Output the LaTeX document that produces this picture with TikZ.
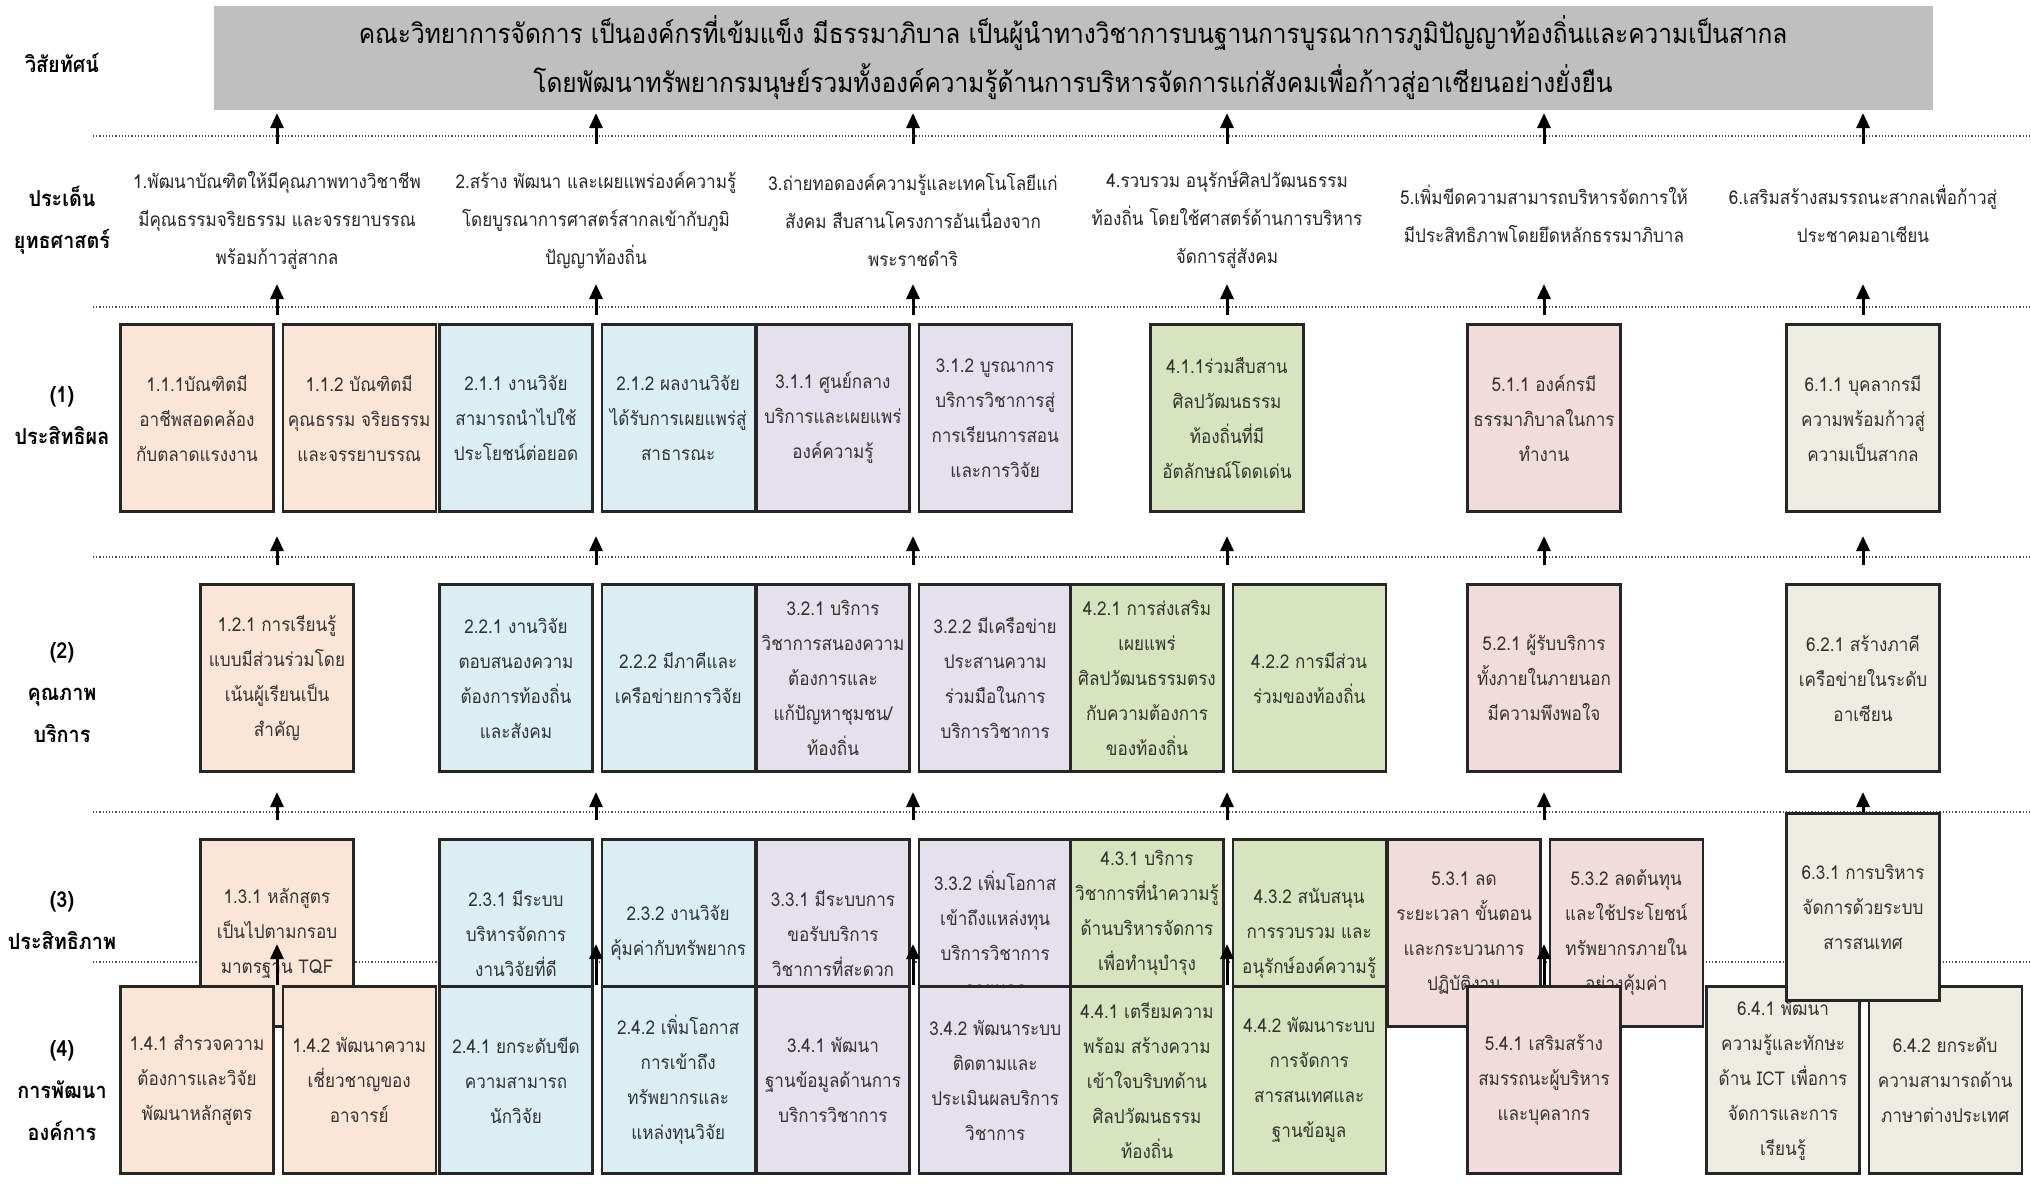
\documentclass[tikz,border=0pt]{standalone}
\usepackage{fontspec}
\newfontfamily\thaifont[Script=Thai, FakeStretch=0.9]{Loma}
\usetikzlibrary{positioning, arrows.meta}

\definecolor{vgray}{HTML}{BFBFBF}
\definecolor{grad}{HTML}{FBE5D6}
\definecolor{research}{HTML}{DAEEF3}
\definecolor{service}{HTML}{E5E0EC}
\definecolor{culture}{HTML}{D7E4BD}
\definecolor{manage}{HTML}{F2DCDB}
\definecolor{asean}{HTML}{EEECE1}

\begin{document}
\begin{tikzpicture}[x=0.5pt, y=0.5pt, node distance=3.5pt, font=\thaifont]
		\tikzstyle{box} = [draw=black!85, line width=1.1pt, minimum width=76.5pt, minimum height=93.5pt, inner sep=1pt, align=center, text=black!80, font=\thaifont\fontsize{9.5}{17.5}\selectfont]
		\tikzstyle{head} = [align=center, font=\thaifont\bfseries\fontsize{11}{21}\selectfont]
		\tikzstyle{issue} = [align=center, text=black!85, font=\thaifont\fontsize{9.5}{19}\selectfont]
		\tikzstyle{sep} = [densely dotted, line width=0.6pt, black!70]
		\tikzstyle{arr} = [-{Triangle[length=7.5pt, width=6.5pt]}, line width=1.5pt]

		\useasboundingbox (0,0) rectangle (2031,-1184);

		\coordinate (center1) at (277,0);
		\coordinate (center2) at (596,0);
		\coordinate (center3) at (913,0);
		\coordinate (center4) at (1227,0);
		\coordinate (center5) at (1544,0);
		\coordinate (center6) at (1863,0);
		\coordinate (edge) at (2031,0);

		\coordinate (line1) at (93,-136);
		\coordinate (line2) at (93,-307);
		\coordinate (line3) at (93,-557);
		\coordinate (line4) at (93,-812);
		\coordinate (line5) at (93,-962);

		\coordinate (base1) at (0,-144);
		\coordinate (tip1) at (0,-113);
		\coordinate (base2) at (0,-315);
		\coordinate (tip2) at (0,-284);
		\coordinate (base3) at (0,-565);
		\coordinate (tip3) at (0,-536);
		\coordinate (base4) at (0,-820);
		\coordinate (tip4) at (0,-792);
		\coordinate (base5) at (0,-985);
		\coordinate (tip5) at (0,-944);

		\coordinate (issue) at (0,-220);
		\coordinate (row1) at (0,-418);
		\coordinate (row2) at (0,-678);
		\coordinate (row3) at (0,-933);
		\coordinate (row4) at (0,-1080);

		\node[fill=vgray, minimum width=859.5pt, minimum height=52pt, align=center, font=\thaifont\fontsize{13.6}{24.5}\selectfont] (vision) at (1073,-58)
			{คณะวิทยาการจัดการ เป็นองค์กรที่เข้มแข็ง มีธรรมาภิบาล เป็นผู้นำทางวิชาการบนฐานการบูรณาการภูมิปัญญาท้องถิ่นและความเป็นสากล\\โดยพัฒนาทรัพยากรมนุษย์รวมทั้งองค์ความรู้ด้านการบริหารจัดการแก่สังคมเพื่อก้าวสู่อาเซียนอย่างยั่งยืน};

		\node[head] (lvision) at (62,-63) {วิสัยทัศน์};
		\node[head] (lissue) at (62,-220) {ประเด็น\\ยุทธศาสตร์};
		\node[head] (lrow1) at (62,-416) {(1)\\ประสิทธิผล};
		\node[head] (lrow2) at (62,-693) {(2)\\คุณภาพ\\บริการ};
		\node[head] (lrow3) at (62,-921) {(3)\\ประสิทธิภาพ};
		\node[head] (lrow4) at (62,-1091) {(4)\\การพัฒนา\\องค์การ};

		\node[issue] (s1) at (center1 |- issue) {1.พัฒนาบัณฑิตให้มีคุณภาพทางวิชาชีพ\\มีคุณธรรมจริยธรรม และจรรยาบรรณ\\พร้อมก้าวสู่สากล};
		\node[issue] (s2) at (center2 |- issue) {2.สร้าง พัฒนา และเผยแพร่องค์ความรู้\\โดยบูรณาการศาสตร์สากลเข้ากับภูมิ\\ปัญญาท้องถิ่น};
		\node[issue] (s3) at (center3 |- issue) {3.ถ่ายทอดองค์ความรู้และเทคโนโลยีแก่\\สังคม สืบสานโครงการอันเนื่องจาก\\พระราชดำริ};
		\node[issue] (s4) at (center4 |- issue) {4.รวบรวม อนุรักษ์ศิลปวัฒนธรรม\\ท้องถิ่น โดยใช้ศาสตร์ด้านการบริหาร\\จัดการสู่สังคม};
		\node[issue, yshift=3pt] (s5) at (center5 |- issue) {5.เพิ่มขีดความสามารถบริหารจัดการให้\\มีประสิทธิภาพโดยยึดหลักธรรมาภิบาล};
		\node[issue, yshift=3pt] (s6) at (center6 |- issue) {6.เสริมสร้างสมรรถนะสากลเพื่อก้าวสู่\\ประชาคมอาเซียน};

		\draw[sep] (line1) -- (line1 -| edge);
		\draw[sep] (line2) -- (line2 -| edge);
		\draw[sep] (line3) -- (line3 -| edge);
		\draw[sep] (line4) -- (line4 -| edge);
		\draw[sep] (line5) -- (line5 -| edge);

		\draw[arr] (center1 |- base1) -- (center1 |- tip1);
		\draw[arr] (center2 |- base1) -- (center2 |- tip1);
		\draw[arr] (center3 |- base1) -- (center3 |- tip1);
		\draw[arr] (center4 |- base1) -- (center4 |- tip1);
		\draw[arr] (center5 |- base1) -- (center5 |- tip1);
		\draw[arr] (center6 |- base1) -- (center6 |- tip1);
		\draw[arr] (center1 |- base2) -- (center1 |- tip2);
		\draw[arr] (center2 |- base2) -- (center2 |- tip2);
		\draw[arr] (center3 |- base2) -- (center3 |- tip2);
		\draw[arr] (center4 |- base2) -- (center4 |- tip2);
		\draw[arr] (center5 |- base2) -- (center5 |- tip2);
		\draw[arr] (center6 |- base2) -- (center6 |- tip2);
		\draw[arr] (center1 |- base3) -- (center1 |- tip3);
		\draw[arr] (center2 |- base3) -- (center2 |- tip3);
		\draw[arr] (center3 |- base3) -- (center3 |- tip3);
		\draw[arr] (center4 |- base3) -- (center4 |- tip3);
		\draw[arr] (center5 |- base3) -- (center5 |- tip3);
		\draw[arr] (center6 |- base3) -- (center6 |- tip3);
		\draw[arr] (center1 |- base4) -- (center1 |- tip4);
		\draw[arr] (center2 |- base4) -- (center2 |- tip4);
		\draw[arr] (center3 |- base4) -- (center3 |- tip4);
		\draw[arr] (center4 |- base4) -- (center4 |- tip4);
		\draw[arr] (center5 |- base4) -- (center5 |- tip4);
		\draw[arr] (center6 |- base4) -- (center6 |- tip4);

		% (1)
		\node[box, fill=grad, xshift=-40pt] (b111) at (center1 |- row1) {1.1.1บัณฑิตมี\\อาชีพสอดคล้อง\\กับตลาดแรงงาน};
		\node[box, fill=grad, right=of b111] (b112) {1.1.2 บัณฑิตมี\\คุณธรรม จริยธรรม\\และจรรยาบรรณ};
		\node[box, fill=research, xshift=-40pt] (b211) at (center2 |- row1) {2.1.1 งานวิจัย\\สามารถนำไปใช้\\ประโยชน์ต่อยอด};
		\node[box, fill=research, right=of b211] (b212) {2.1.2 ผลงานวิจัย\\ได้รับการเผยแพร่สู่\\สาธารณะ};
		\node[box, fill=service, xshift=-40pt] (b311) at (center3 |- row1) {3.1.1 ศูนย์กลาง\\บริการและเผยแพร่\\องค์ความรู้};
		\node[box, fill=service, right=of b311] (b312) {3.1.2 บูรณาการ\\บริการวิชาการสู่\\การเรียนการสอน\\และการวิจัย};
		\node[box, fill=culture] (b411) at (center4 |- row1) {4.1.1ร่วมสืบสาน\\ศิลปวัฒนธรรม\\ท้องถิ่นที่มี\\อัตลักษณ์โดดเด่น};
		\node[box, fill=manage] (b511) at (center5 |- row1) {5.1.1 องค์กรมี\\ธรรมาภิบาลในการ\\ทำงาน};
		\node[box, fill=asean] (b611) at (center6 |- row1) {6.1.1 บุคลากรมี\\ความพร้อมก้าวสู่\\ความเป็นสากล};

		% (2)
		\node[box, fill=grad] (b121) at (center1 |- row2) {1.2.1 การเรียนรู้\\แบบมีส่วนร่วมโดย\\เน้นผู้เรียนเป็น\\สำคัญ};
		\node[box, fill=research, xshift=-40pt] (b221) at (center2 |- row2) {2.2.1 งานวิจัย\\ตอบสนองความ\\ต้องการท้องถิ่น\\และสังคม};
		\node[box, fill=research, right=of b221] (b222) {2.2.2 มีภาคีและ\\เครือข่ายการวิจัย};
		\node[box, fill=service, xshift=-40pt] (b321) at (center3 |- row2) {3.2.1 บริการ\\วิชาการสนองความ\\ต้องการและ\\แก้ปัญหาชุมชน/\\ท้องถิ่น};
		\node[box, fill=service, right=of b321] (b322) {3.2.2 มีเครือข่าย\\ประสานความ\\ร่วมมือในการ\\บริการวิชาการ};
		\node[box, fill=culture, xshift=-40pt] (b421) at (center4 |- row2) {4.2.1 การส่งเสริม\\เผยแพร่\\ศิลปวัฒนธรรมตรง\\กับความต้องการ\\ของท้องถิ่น};
		\node[box, fill=culture, right=of b421] (b422) {4.2.2 การมีส่วน\\ร่วมของท้องถิ่น};
		\node[box, fill=manage] (b521) at (center5 |- row2) {5.2.1 ผู้รับบริการ\\ทั้งภายในภายนอก\\มีความพึงพอใจ};
		\node[box, fill=asean] (b621) at (center6 |- row2) {6.2.1 สร้างภาคี\\เครือข่ายในระดับ\\อาเซียน};

		% (3)
		\node[box, fill=grad] (b131) at (center1 |- row3) {1.3.1 หลักสูตร\\เป็นไปตามกรอบ\\มาตรฐาน TQF};
		\node[box, fill=research, xshift=-40pt] (b231) at (center2 |- row3) {2.3.1 มีระบบ\\บริหารจัดการ\\งานวิจัยที่ดี};
		\node[box, fill=research, right=of b231] (b232) {2.3.2 งานวิจัย\\คุ้มค่ากับทรัพยากร};
		\node[box, fill=service, xshift=-40pt] (b331) at (center3 |- row3) {3.3.1 มีระบบการ\\ขอรับบริการ\\วิชาการที่สะดวก};
		\node[box, fill=service, right=of b331] (b332) {3.3.2 เพิ่มโอกาส\\เข้าถึงแหล่งทุน\\บริการวิชาการ\\ภายนอก};
		\node[box, fill=culture, xshift=-40pt] (b431) at (center4 |- row3) {4.3.1 บริการ\\วิชาการที่นำความรู้\\ด้านบริหารจัดการ\\เพื่อทำนุบำรุง\\\strut};
		\node[box, fill=culture, right=of b431] (b432) {4.3.2 สนับสนุน\\การรวบรวม และ\\อนุรักษ์องค์ความรู้};
		\node[box, fill=manage, xshift=-40pt] (b531) at (center5 |- row3) {5.3.1 ลด\\ระยะเวลา ขั้นตอน\\และกระบวนการ\\ปฏิบัติงาน};
		\node[box, fill=manage, right=of b531] (b532) {5.3.2 ลดต้นทุน\\และใช้ประโยชน์\\ทรัพยากรภายใน\\อย่างคุ้มค่า};

		\draw[arr] (center1 |- base5) -- (center1 |- tip5);
		\draw[arr] (center2 |- base5) -- (center2 |- tip5);
		\draw[arr] (center3 |- base5) -- (center3 |- tip5);
		\draw[arr] (center4 |- base5) -- (center4 |- tip5);
		\draw[arr] (center5 |- base5) -- (center5 |- tip5);

		% (4)
		\node[box, fill=grad, xshift=-40pt] (b141) at (center1 |- row4) {1.4.1 สำรวจความ\\ต้องการและวิจัย\\พัฒนาหลักสูตร};
		\node[box, fill=grad, right=of b141] (b142) {1.4.2 พัฒนาความ\\เชี่ยวชาญของ\\อาจารย์};
		\node[box, fill=research, xshift=-40pt] (b241) at (center2 |- row4) {2.4.1 ยกระดับขีด\\ความสามารถ\\นักวิจัย};
		\node[box, fill=research, right=of b241] (b242) {2.4.2 เพิ่มโอกาส\\การเข้าถึง\\ทรัพยากรและ\\แหล่งทุนวิจัย};
		\node[box, fill=service, xshift=-40pt] (b341) at (center3 |- row4) {3.4.1 พัฒนา\\ฐานข้อมูลด้านการ\\บริการวิชาการ};
		\node[box, fill=service, right=of b341] (b342) {3.4.2 พัฒนาระบบ\\ติดตามและ\\ประเมินผลบริการ\\วิชาการ};
		\node[box, fill=culture, xshift=-40pt] (b441) at (center4 |- row4) {4.4.1 เตรียมความ\\พร้อม สร้างความ\\เข้าใจบริบทด้าน\\ศิลปวัฒนธรรม\\ท้องถิ่น};
		\node[box, fill=culture, right=of b441] (b442) {4.4.2 พัฒนาระบบ\\การจัดการ\\สารสนเทศและ\\ฐานข้อมูล};
		\node[box, fill=manage] (b541) at (center5 |- row4) {5.4.1 เสริมสร้าง\\สมรรถนะผู้บริหาร\\และบุคลากร};
		\node[box, fill=asean, xshift=-40pt] (b641) at (center6 |- row4) {6.4.1 พัฒนา\\ความรู้และทักษะ\\ด้าน ICT เพื่อการ\\จัดการและการ\\เรียนรู้};
		\node[box, fill=asean, right=of b641] (b642) {6.4.2 ยกระดับ\\ความสามารถด้าน\\ภาษาต่างประเทศ};

		\node[box, fill=asean, yshift=13pt] (b631) at (center6 |- row3) {6.3.1 การบริหาร\\จัดการด้วยระบบ\\สารสนเทศ};
\end{tikzpicture}
\end{document}
